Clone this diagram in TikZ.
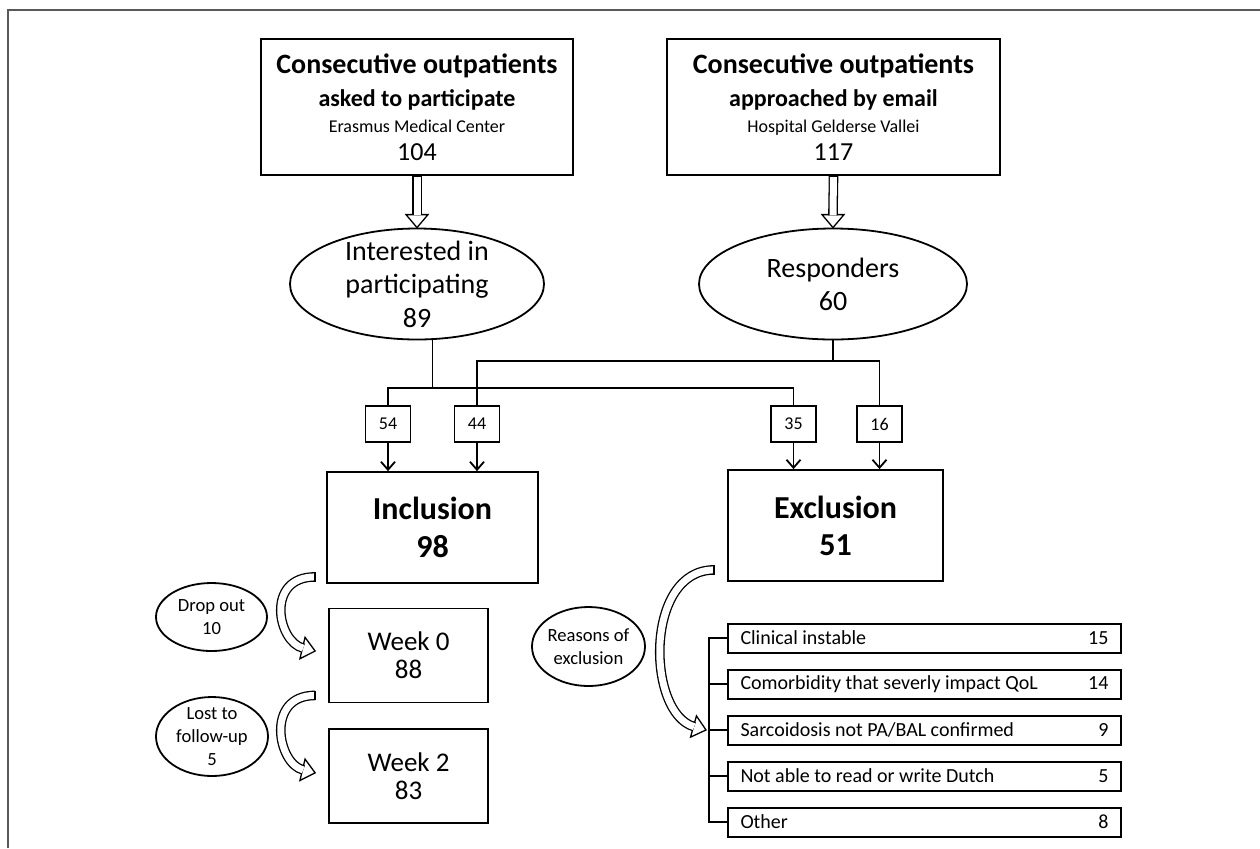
\documentclass[tikz,border=0pt]{standalone}
\usepackage{fontspec}
\setmainfont{Carlito}
\usetikzlibrary{positioning,calc,arrows.meta,shapes.geometric}

% hollow block arrow: start, first control offset, end of shaft, second control offset
\newcommand{\bentarrow}[4]{%
  \coordinate (ba-s) at ($#1+#2$);
  \coordinate (ba-c) at ($#3+#4$);
  \draw[hollow, fill=white] ($#3!5.5pt!90:(ba-c)$) -- ($#3!-6.5pt!(ba-c)$) -- ($#3!5.5pt!-90:(ba-c)$) -- cycle;
  \draw[hollow, double, double distance=3.5pt, shorten >=-0.35pt] #1 .. controls +#2 and +#4 .. #3;
  \draw[hollow] ($#1!2.4pt!90:(ba-s)$) -- ($#1!2.4pt!-90:(ba-s)$);
}

\begin{document}
\begin{tikzpicture}[x=0.5pt, y=-0.5pt,
    box/.style={draw, line width=0.9pt, inner sep=0pt, align=center},
    oval/.style={draw, ellipse, line width=0.9pt, inner xsep=-1pt, inner ysep=-3pt, align=center},
    count/.style={draw, line width=0.9pt, minimum width=22.5pt, minimum height=18pt, inner sep=0pt, font=\fontsize{9}{11}\selectfont},
    reason/.style={draw, line width=1pt, minimum height=14.5pt, inner ysep=0pt, inner xsep=6.25pt, font=\fontsize{10}{12}\selectfont},
    hollow/.style={line width=0.65pt},
    link/.style={line width=0.9pt},
    >={Straight Barb[length=4pt,width=7pt]}]
    \useasboundingbox (0,0) rectangle (1260,848);
    \draw[line width=1pt, black!65] (8,848) -- (8,10) -- (1260,10);

    % sources
    \node[box, minimum width=156pt, minimum height=68pt, font=\fontsize{13}{13}\selectfont] (erasmus) at (417,107)
        {{\bfseries\fontsize{14}{16}\selectfont Consecutive outpatients}\\[3.5pt]
         {\bfseries\fontsize{12}{14}\selectfont asked to participate}\\
         {\fontsize{9}{10}\selectfont Erasmus Medical Center}\\[1pt]
         104};
    \node[box, minimum width=166.5pt, minimum height=68pt, font=\fontsize{13}{13}\selectfont] (gelderse) at (833.5,107)
        {{\bfseries\fontsize{14}{16}\selectfont Consecutive outpatients}\\[3.5pt]
         {\bfseries\fontsize{12}{14}\selectfont approached by email}\\
         {\fontsize{9}{10}\selectfont Hospital Gelderse Vallei}\\[1pt]
         117};
    \node[oval, minimum width=127pt, minimum height=55.5pt, font=\fontsize{14}{16.75}\selectfont] (interested) at (417,284)
        {Interested in\\ participating\\ 89};
    \node[oval, minimum width=134pt, minimum height=55.5pt, font=\fontsize{14}{16.5}\selectfont] (responders) at (833,284)
        {Responders\\ 60};

    % split counts
    \node[count] (n54) at (388,424) {54};
    \node[count] (n44) at (477,424) {44};
    \node[count] (n35) at (793.5,424) {35};
    \node[count] (n16) at (879.5,424) {16};

    \node[box, minimum width=105.5pt, minimum height=55.5pt, font=\bfseries\fontsize{16}{19}\selectfont] (inclusion) at (432.5,527.5)
        {Inclusion\\ 98};
    \node[box, minimum width=107.5pt, minimum height=55.5pt, font=\bfseries\fontsize{16}{18.5}\selectfont] (exclusion) at (835.5,525.5)
        {Exclusion\\ 51};

    % follow-up
    \node[box, minimum width=79.5pt, minimum height=47pt, font=\fontsize{13.5}{14}\selectfont] (week0) at (408.5,655.5)
        {Week 0\\ 88};
    \node[box, minimum width=79.5pt, minimum height=47pt, font=\fontsize{13.5}{14}\selectfont, below=12.5pt of week0] (week2)
        {Week 2\\ 83};
    \node[oval, minimum width=55.5pt, minimum height=34pt, font=\fontsize{9.3}{11.5}\selectfont] (dropout) at (211.5,617)
        {Drop out\\ 10};
    \node[oval, minimum width=56pt, minimum height=39.5pt, font=\fontsize{9.3}{11.5}\selectfont] (lost) at (212,736.5)
        {Lost to\\ follow-up\\ 5};

    % reasons
    \node[oval, minimum width=56.5pt, minimum height=39.5pt, font=\fontsize{9.3}{11.5}\selectfont] (reasons) at (588.5,646.5)
        {Reasons of\\ exclusion};
    \node[reason] (r1) at (924.5,638) {\hbox to 184pt{Clinical instable\hfill 15}};
    \node[reason, below=7.5pt of r1] (r2) {\hbox to 184pt{Comorbidity that severly impact QoL\hfill 14}};
    \node[reason, below=7.5pt of r2] (r3) {\hbox to 184pt{Sarcoidosis not PA/BAL confirmed\hfill 9}};
    \node[reason, below=7.5pt of r3] (r4) {\hbox to 184pt{Not able to read or write Dutch\hfill 5}};
    \node[reason, below=7.5pt of r4] (r5) {\hbox to 184pt{Other\hfill 8}};

    % links
    \draw[link] (interested.south -| inclusion.center) -- ++(0,49);
    \draw[link] (n54.north) -- ++(0,-17) -| (n35.north);
    \draw[link] (responders.south) -- ++(0,22);
    \draw[link] (n44.north) -- ++(0,-44) -| (n16.north);
    \draw[link,->] (n54) -- (n54 |- inclusion.north);
    \draw[link,->] (n44) -- (n44 |- inclusion.north);
    \draw[link,->] (n35) -- (n35 |- exclusion.north);
    \draw[link,->] (n16) -- (n16 |- exclusion.north);
    \draw[link] (r1.west) -- ++(-18,0) |- (r5.west);
    \foreach \r in {r2,r3,r4}
        \draw[link] (\r.west) -- ++(-18,0);

    % block arrows
    \coordinate (tA) at ($(interested.north)+(0,-13)$);
    \coordinate (tB) at ($(responders.north)+(0,-13)$);
    \bentarrow{(erasmus.south)}{(0,10)}{(tA)}{(0,-10)}
    \bentarrow{(gelderse.south)}{(0,10)}{(tB)}{(0,-10)}
    \coordinate (c1s) at ($(inclusion.south west)+(-11,-7)$);
    \coordinate (c1e) at ($(week0.west)+(-25.6,-7.5)$);
    \bentarrow{(c1s)}{(-50,0)}{(c1e)}{(-25,-6)}
    \coordinate (c2s) at ($(week0.south west)+(-13,-8)$);
    \coordinate (c2e) at ($(week2.west)+(-25.6,-6.5)$);
    \bentarrow{(c2s)}{(-50,0)}{(c2e)}{(-25,-6)}
    \coordinate (c3s) at ($(exclusion.south west)+(-13,-12)$);
    \coordinate (c3e) at ($(r3.west)+(-33.5,-3.5)$);
    \bentarrow{(c3s)}{(-70,0)}{(c3e)}{(-47,-13)}
\end{tikzpicture}
\end{document}
